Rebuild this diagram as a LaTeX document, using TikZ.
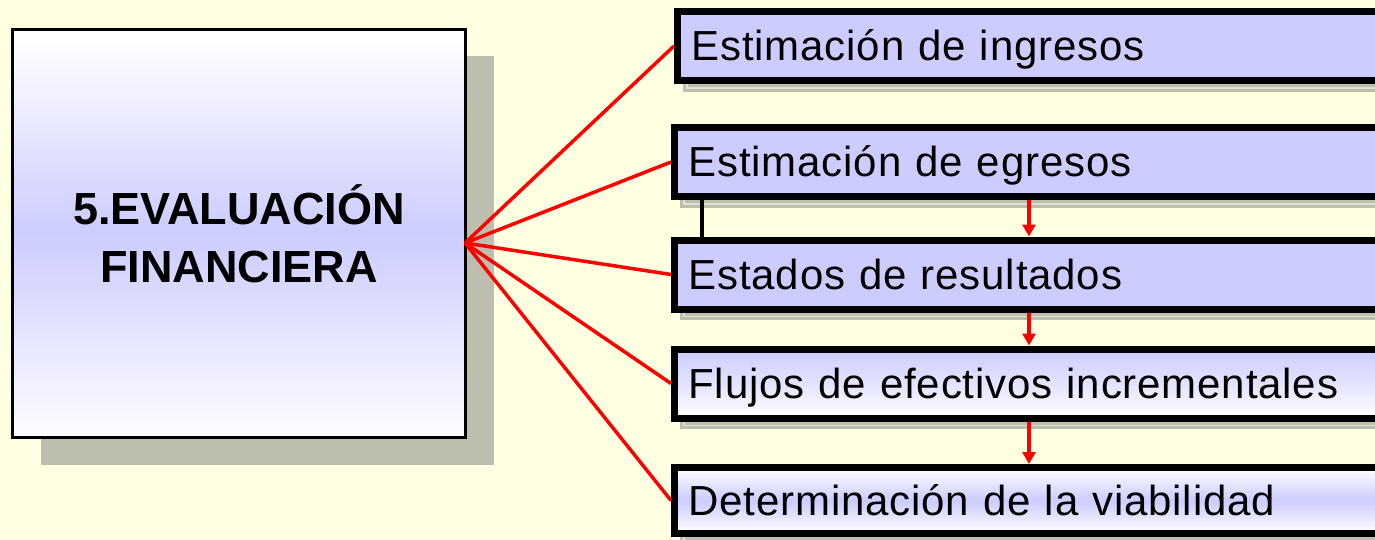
\documentclass[tikz,border=0pt]{standalone}
\usepackage{fontspec}
\setmainfont{Liberation Sans}
\newfontfamily\boxfont[LetterSpace=2]{Liberation Sans}
\usetikzlibrary{arrows.meta, shadows}

\definecolor{paper}{RGB}{255,255,225}
\definecolor{lav}{RGB}{204,204,255}
\definecolor{shadowgray}{RGB}{190,190,174}
\definecolor{shadowlight}{RGB}{225,225,208}

% light at the edges, white bands, lavender in the middle
\pgfdeclareverticalshading{mainshade}{100bp}{
    color(0bp)=(lav!70!white); color(9bp)=(white); color(24bp)=(white);
    color(50bp)=(lav); color(74bp)=(white); color(90bp)=(white);
    color(100bp)=(lav!50!white)}

\begin{document}
\begin{tikzpicture}[x=1pt, y=-1pt, >={Triangle[width=13pt, length=12pt]},
    mainbox/.style={draw=black, line width=3pt, shading=mainshade,
        minimum width=453pt, minimum height=408pt, align=center,
        font=\bfseries\fontsize{45}{58}\selectfont,
        general shadow={fill=shadowgray, shadow xshift=28pt, shadow yshift=-27pt}},
    itembox/.style={draw=black, line width=7pt, fill=lav, anchor=west,
        minimum height=69pt, text width=680pt, inner xsep=14pt, align=left,
        text height=30pt, text depth=0pt,
        font=\boxfont\fontsize{42}{50}\selectfont,
        general shadow={fill=shadowgray, draw=shadowgray, double=shadowlight,
            double distance=1.2pt, line width=3pt,
            shadow xshift=9.5pt, shadow yshift=-7.5pt}},
    fan/.style={red, line width=3.5pt},
    flow/.style={->, red, line width=3.5pt}]

    % Page
    \useasboundingbox (0,0) rectangle (1375,540);
    \fill[paper] (0,0) rectangle (1375,540);
    \clip (0,0) rectangle (1375,540);

    % Main box
    \node[mainbox] (eval) at (239,233.5) {5.EVALUACIÓN\\FINANCIERA};

    % Steps
    \node[itembox] (ingresos) at (674,46) {Estimación de ingresos};
    \node[itembox] (egresos) at (671,162) {Estimación de egresos};
    \node[itembox] (resultados) at (671,274.5) {Estados de resultados};
    \node[itembox, top color=lav, bottom color=white, middle color=lav!55!white]
        (flujos) at (671,383.5) {Flujos de efectivos incrementales};
    \node[itembox, minimum height=66pt, top color=white, bottom color=white, middle color=lav]
        (viabilidad) at (671,500.5) {Determinación de la viabilidad};

    % Fan from the main box
    \coordinate (hub) at ([xshift=-2pt, yshift=-9.5pt]eval.east);
    \foreach \b in {ingresos, egresos, resultados, flujos, viabilidad}
        \draw[fan] (hub) -- (\b.west);

    % Links between steps
    \coordinate (leftcol) at (702,0);
    \coordinate (midcol) at (1029,0);
    \draw[line width=4pt] (egresos.south -| leftcol) -- (resultados.north -| leftcol);
    \foreach \a/\b in {egresos/resultados, resultados/flujos, flujos/viabilidad}
        \draw[flow] (\a.south -| midcol) -- (\b.north -| midcol);

\end{tikzpicture}
\end{document}
